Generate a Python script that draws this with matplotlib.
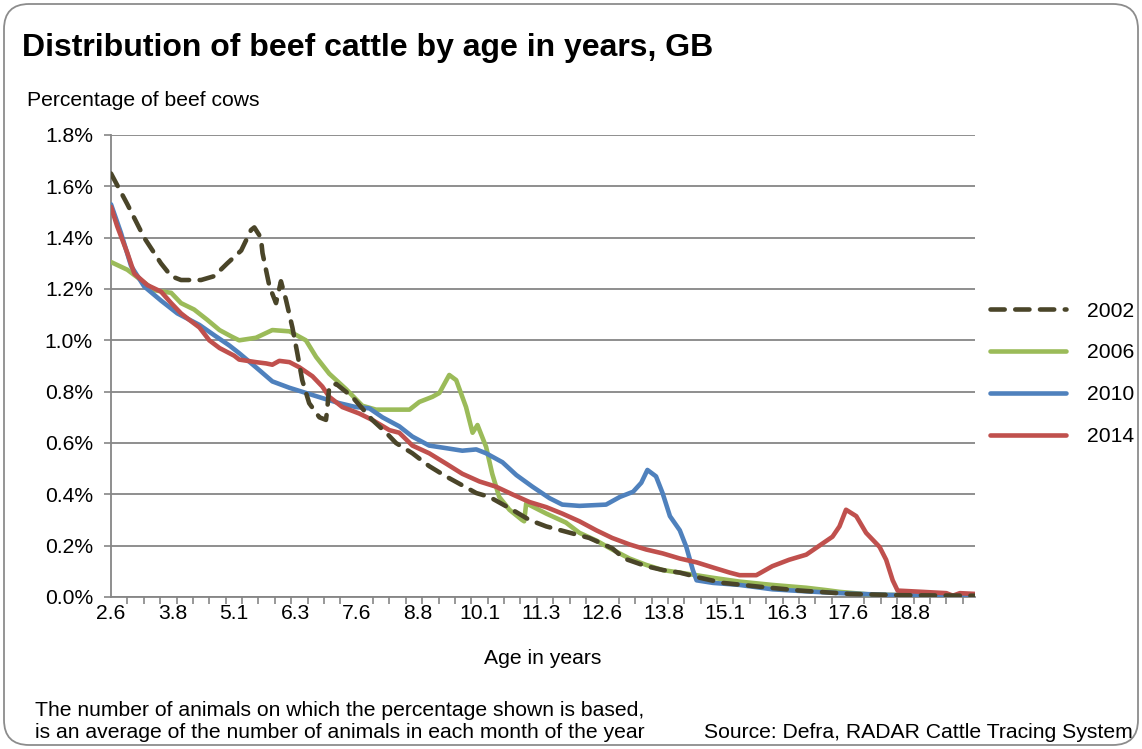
import matplotlib
matplotlib.use("Agg")
import matplotlib.pyplot as plt
from matplotlib.patches import FancyBboxPatch

# age in months, value in % of beef cows
months_2002 = [31, 35, 39.1, 43.2, 45.7, 48.1, 53, 56.2, 59.4, 62.8, 65.2, 66, 67.6, 68, 69.7,
               71.3, 72.5, 73.7, 75.3, 76.5, 77.7, 79.4, 81.9, 83.5, 83.8, 84.3, 86, 89.9, 94.8,
               98.2, 100.6, 104.6, 108.7, 112.8, 116.8, 120.2, 123.4, 129, 133.2, 137.3, 147.8,
               153.4, 156.3, 161.7, 165.8, 169.9, 174.8, 180.4, 189.4, 199.2, 211.4, 223.6, 242]
pct_2002 = [1.65, 1.53, 1.40, 1.30, 1.25, 1.235, 1.235, 1.25, 1.30, 1.35, 1.43, 1.44, 1.40, 1.34, 1.21,
            1.145, 1.23, 1.16, 1.05, 0.95, 0.845, 0.755, 0.70, 0.69, 0.73, 0.82, 0.83, 0.78, 0.69,
            0.64, 0.60, 0.56, 0.51, 0.47, 0.435, 0.405, 0.39, 0.34, 0.30, 0.275, 0.23,
            0.19, 0.15, 0.12, 0.105, 0.095, 0.075, 0.055, 0.04, 0.025, 0.012, 0.007, 0.005]

months_2006 = [31, 35, 38.3, 41.6, 45.7, 48.1, 51.3, 54.5, 57.5, 60.4, 62.3, 66.4, 70.4, 74.6, 78.6,
               81.1, 84.3, 88.4, 92.4, 95.7, 100.6, 103.9, 106.3, 109.5, 111.2, 113.6, 115.3, 117.7,
               119.3, 120.5, 122.6, 124.1, 125.8, 128.3, 131.4, 131.9, 132.4, 137.3, 142.1, 145.4,
               149.5, 153.4, 157.6, 161.7, 165.7, 169.9, 173.9, 177.9, 184.5, 192.5, 200.8, 205.6,
               208.9, 216.2, 228.4, 242]
pct_2006 = [1.305, 1.275, 1.235, 1.195, 1.185, 1.145, 1.12, 1.08, 1.04, 1.015, 1.00, 1.01, 1.04, 1.035, 1.00,
            0.935, 0.87, 0.81, 0.745, 0.73, 0.73, 0.73, 0.76, 0.78, 0.795, 0.865, 0.845, 0.74,
            0.64, 0.67, 0.585, 0.48, 0.39, 0.34, 0.30, 0.295, 0.365, 0.325, 0.29, 0.25,
            0.22, 0.185, 0.15, 0.125, 0.105, 0.095, 0.085, 0.075, 0.06, 0.047, 0.036, 0.027,
            0.02, 0.01, 0.006, 0.005]

months_2010 = [31, 33.4, 35.9, 39.1, 43.2, 47.2, 52.6, 56.2, 59.9, 62.3, 66.4, 70.4, 74.6, 78.6, 82.6,
               86.8, 90.8, 94.1, 97.3, 101.4, 104.6, 108.7, 112.8, 116.8, 120.2, 122.6, 126.6, 130,
               133.9, 138.1, 141.2, 145.4, 151.9, 155.3, 158.5, 160.5, 162, 164.1, 165.7, 167.5,
               169.9, 171.5, 173.1, 174, 178, 184.5, 192.5, 200.8, 208.9, 221.1, 242]
pct_2010 = [1.53, 1.42, 1.29, 1.21, 1.155, 1.105, 1.06, 1.02, 0.98, 0.95, 0.895, 0.84, 0.815, 0.795, 0.775,
            0.755, 0.74, 0.735, 0.70, 0.665, 0.625, 0.59, 0.58, 0.57, 0.575, 0.56, 0.525, 0.475,
            0.43, 0.385, 0.36, 0.355, 0.36, 0.39, 0.41, 0.445, 0.495, 0.47, 0.405, 0.315,
            0.26, 0.195, 0.105, 0.065, 0.055, 0.047, 0.03, 0.022, 0.015, 0.008, 0.005]

months_2014 = [31, 32.5, 35, 36.7, 39.9, 43.2, 45.7, 48.1, 50.1, 52.6, 55, 57.5, 61.1, 62.3, 66.4,
               68.9, 70.4, 72.1, 74.6, 77, 80.2, 82.6, 84.3, 87.5, 91.6, 94.8, 99, 101.4, 104.6,
               108.7, 112.8, 116.8, 121, 125, 129, 133.2, 137.3, 141.2, 145.4, 149.5, 153.4, 157.6,
               161.7, 165.7, 169.9, 174, 178, 182.1, 184.5, 188.6, 192.5, 196.6, 200.8, 204, 207.2,
               208.9, 210.5, 213, 215.4, 218.7, 220.3, 221.9, 223.1, 229.2, 235, 236.6, 238.3, 242]
pct_2014 = [1.52, 1.445, 1.34, 1.26, 1.215, 1.19, 1.145, 1.105, 1.08, 1.05, 1.00, 0.97, 0.94, 0.925, 0.915,
            0.91, 0.905, 0.92, 0.915, 0.895, 0.86, 0.82, 0.78, 0.74, 0.715, 0.69, 0.65, 0.64, 0.59,
            0.56, 0.52, 0.48, 0.45, 0.43, 0.40, 0.37, 0.35, 0.325, 0.295, 0.26, 0.23, 0.205,
            0.185, 0.17, 0.15, 0.135, 0.115, 0.095, 0.085, 0.085, 0.12, 0.145, 0.165, 0.20, 0.235,
            0.275, 0.34, 0.315, 0.25, 0.195, 0.145, 0.065, 0.025, 0.02, 0.015, 0.005, 0.015, 0.012]

tick_labels = ["2.6", "3.8", "5.1", "6.3", "7.6", "8.8", "10.1", "11.3", "12.6", "13.8",
               "15.1", "16.3", "17.6", "18.8"]
label_months = [31 + 15 * i for i in range(len(tick_labels))]

GRAY = "#868686"
FS = 15.2
plt.rcParams["font.family"] = ["Liberation Sans", "DejaVu Sans"]

fig = plt.figure(figsize=(11.42, 7.49), dpi=100)
ax = fig.add_axes([111 / 1142, 1 - 597 / 749, 864 / 1142, 462 / 749])

# rounded frame around the whole chart
fig.patches.append(FancyBboxPatch((4 / 1142, 4 / 749), 1134 / 1142, 741 / 749,
                                  boxstyle="round,pad=0,rounding_size=0.022",
                                  transform=fig.transFigure, fill=False,
                                  edgecolor="#8c8c8c", linewidth=1.3,
                                  mutation_aspect=1142 / 749))

ax.plot(months_2002, pct_2002, color="#4a4529", lw=3.3, dashes=(3.1, 2.3),
        dash_capstyle="round", label="2002", zorder=6)
ax.plot(months_2006, pct_2006, color="#9bbb59", lw=3.3, solid_capstyle="round",
        label="2006", zorder=3)
ax.plot(months_2010, pct_2010, color="#4f81bd", lw=3.3, solid_capstyle="round",
        label="2010", zorder=4)
ax.plot(months_2014, pct_2014, color="#c0504d", lw=3.3, solid_capstyle="round",
        label="2014", zorder=5)

ax.set_xlim(31, 242)
ax.set_ylim(0, 1.8)
ax.set_yticks([i * 0.2 for i in range(10)])
ax.set_yticklabels([f"{i * 0.2:.1f}%" for i in range(10)])
ax.set_xticks(label_months)
ax.set_xticklabels(tick_labels)
ax.set_xticks(range(31, 243, 4), minor=True)

ax.tick_params(axis="x", which="major", length=0, pad=5, labelsize=FS)
ax.tick_params(axis="x", which="minor", length=5, width=1.2, color=GRAY, direction="out")
ax.tick_params(axis="y", length=5, width=1.2, color=GRAY, pad=8, labelsize=FS)

ax.grid(axis="y", color=GRAY, lw=1.3)
ax.set_axisbelow(True)
for s in ["top", "right"]:
    ax.spines[s].set_visible(False)
for s in ["left", "bottom"]:
    ax.spines[s].set_color(GRAY)
    ax.spines[s].set_linewidth(1.3)

ax.set_xlabel("Age in years", fontsize=FS, labelpad=19)

ax.legend(loc="center left", bbox_to_anchor=(1.017, 0.483), frameon=False,
          fontsize=FS, handlelength=3.6, handletextpad=1.0, labelspacing=1.08,
          borderpad=0, borderaxespad=0)

fig.text(22 / 1142, 1 - 48 / 749, "Distribution of beef cattle by age in years, GB",
         fontsize=23, fontweight="bold", va="center", ha="left")
fig.text(27 / 1142, 1 - 100 / 749, "Percentage of beef cows", fontsize=FS,
         va="center", ha="left")
fig.text(35 / 1142, 1 - 710 / 749, "The number of animals on which the percentage shown is based,",
         fontsize=FS, va="center", ha="left")
fig.text(35 / 1142, 1 - 733 / 749, "is an average of the number of animals in each month of the year",
         fontsize=FS, va="center", ha="left")
fig.text(1133 / 1142, 1 - 733 / 749, "Source: Defra, RADAR Cattle Tracing System",
         fontsize=FS, va="center", ha="right")

fig.savefig("out.png", dpi=100)
